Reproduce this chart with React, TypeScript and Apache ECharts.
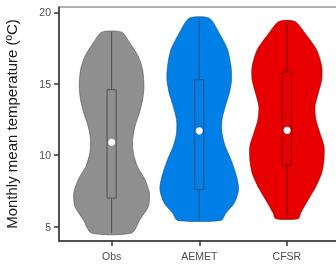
import React, { useEffect, useRef } from "react";
import * as echarts from "echarts";

const categories = ["Obs", "AEMET", "CFSR"];
const fillColors = ["#8f8f8f", "#0080e6", "#e80000"];
const lineColors = ["#505050", "#1b4f80", "#8a0000"];

// violin outlines: temperature levels (ºC) and half widths (category units)
const obsLevels = [4.56, 5.49, 6.42, 7.36, 8.29, 9.22, 10.15, 11.08, 12.01, 12.95, 13.88, 14.81, 15.98, 16.91, 17.85, 18.61];
const obsHalf = [0.229, 0.323, 0.419, 0.431, 0.381, 0.294, 0.248, 0.24, 0.266, 0.317, 0.354, 0.369, 0.354, 0.305, 0.209, 0.114];
const aemetLevels = [5.44, 5.96, 6.66, 7.59, 8.52, 9.69, 10.62, 11.55, 12.48, 13.41, 14.35, 15.28, 16.21, 17.38, 18.54, 19.59];
const aemetHalf = [0.248, 0.305, 0.4, 0.449, 0.426, 0.362, 0.297, 0.259, 0.259, 0.297, 0.343, 0.369, 0.362, 0.324, 0.229, 0.114];
const cfsrLevels = [5.56, 5.96, 6.89, 7.82, 8.76, 9.69, 10.62, 11.55, 12.48, 13.41, 14.35, 15.28, 16.21, 17.38, 18.54, 19.36];
const cfsrHalf = [0.129, 0.157, 0.243, 0.331, 0.397, 0.423, 0.423, 0.377, 0.331, 0.32, 0.358, 0.397, 0.397, 0.339, 0.206, 0.091];

// box stats: [min, q1, q3, max, dot]
const obsBox = [4.56, 7.0, 14.58, 18.61, 10.97];
const aemetBox = [5.44, 7.59, 15.28, 19.59, 11.71];
const cfsrBox = [5.56, 9.29, 15.82, 19.36, 11.83];

const yTicks = [5, 10, 15, 20];

const levels = [obsLevels, aemetLevels, cfsrLevels];
const halves = [obsHalf, aemetHalf, cfsrHalf];
const boxes = [obsBox, aemetBox, cfsrBox];

export default function App() {
  const ref = useRef<HTMLDivElement>(null);
  useEffect(() => {
    if (!ref.current) return;
    const chart = echarts.init(ref.current, null, { renderer: "svg" });
    const renderItem = (params: any, api: any) => {
      const i = api.value(0) - 1;
      const x = i + 1;
      const lv = levels[i];
      const hw = halves[i];
      const pts: number[][] = [];
      for (let k = 0; k < lv.length; k++) pts.push(api.coord([x + hw[k], lv[k]]));
      for (let k = lv.length - 1; k >= 0; k--) pts.push(api.coord([x - hw[k], lv[k]]));
      const b = boxes[i];
      const bw = 0.052;
      const pMin = api.coord([x, b[0]]);
      const pMax = api.coord([x, b[3]]);
      const q1 = api.coord([x - bw, b[1]]);
      const q3 = api.coord([x + bw, b[2]]);
      const dot = api.coord([x, b[4]]);
      return {
        type: "group",
        children: [
          {
            type: "polygon",
            shape: { points: pts, smooth: 0.25 },
            style: { fill: fillColors[i], stroke: lineColors[i], lineWidth: 0.6 },
          },
          {
            type: "line",
            shape: { x1: pMin[0], y1: pMin[1], x2: pMax[0], y2: pMax[1] },
            style: { stroke: lineColors[i], lineWidth: 1 },
          },
          {
            type: "rect",
            shape: { x: q1[0], y: q3[1], width: q3[0] - q1[0], height: q1[1] - q3[1] },
            style: { fill: fillColors[i], stroke: lineColors[i], lineWidth: 1 },
          },
          {
            type: "circle",
            shape: { cx: dot[0], cy: dot[1], r: 3.6 },
            style: { fill: "#ffffff" },
          },
        ],
      };
    };
    chart.setOption({
      animation: false,
      textStyle: { fontFamily: "Liberation Sans, Arial, sans-serif" },
      grid: {
        left: 59,
        top: 7,
        width: 280.5,
        height: 234,
        outerBoundsMode: "none",
        containLabel: false,
        show: true,
        borderColor: "#666666",
        borderWidth: 1,
        backgroundColor: "transparent",
      },
      xAxis: {
        type: "value",
        min: 0.4,
        max: 3.6,
        splitLine: { show: false },
        axisLine: { show: true, lineStyle: { color: "#333333", width: 1.5 } },
        axisTick: { show: true, customValues: [1, 2, 3], length: 5, lineStyle: { color: "#333333", width: 1.5 } },
        axisLabel: {
          customValues: [1, 2, 3],
          formatter: (v: number) => categories[Math.round(v) - 1] || "",
          color: "#4d4d4d",
          fontSize: 10.5,
          margin: 9,
        },
      },
      yAxis: {
        type: "value",
        min: 4.0,
        max: 20.37,
        splitLine: { show: false },
        name: "Monthly mean temperature (ºC)",
        nameLocation: "middle",
        nameGap: 40,
        nameTextStyle: { color: "#1a1a1a", fontSize: 15 },
        axisLine: { show: true, lineStyle: { color: "#333333", width: 1.5 } },
        axisTick: { show: true, customValues: yTicks, length: 5, lineStyle: { color: "#333333", width: 1.5 } },
        axisLabel: { customValues: yTicks, color: "#4d4d4d", fontSize: 10.5, margin: 8 },
      },
      series: [
        {
          type: "custom",
          renderItem,
          data: [[1], [2], [3]],
          encode: { x: 0 },
          clip: false,
        },
      ],
    });
    return () => chart.dispose();
  }, []);
  return <div ref={ref} style={{ position: "fixed", left: 0, top: 0, width: 350, height: 277 }} />;
}
